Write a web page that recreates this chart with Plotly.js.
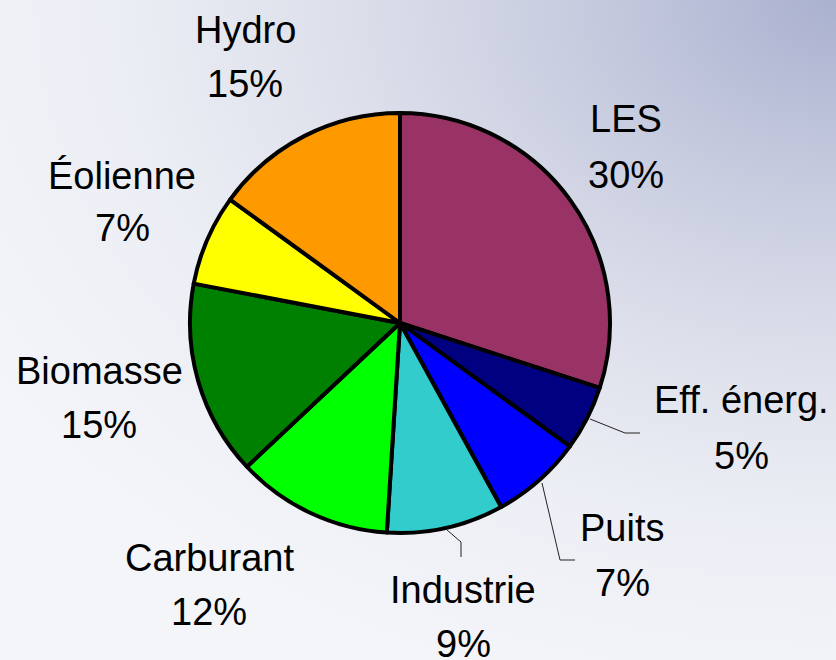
<!DOCTYPE html>
<html>
<head>
<meta charset="utf-8">
<script src="https://cdn.plot.ly/plotly-3.0.1.min.js"></script>
<style>
  html, body { margin: 0; padding: 0; }
  body {
    width: 836px; height: 660px; overflow: hidden;
    background: radial-gradient(ellipse 120% 110% at 100% 0%, #aab1cf 0%, #c3c8dd 22%, #dcdfea 48%, #eceef5 72%, #f3f5f9 100%);
  }
  #chart { width: 836px; height: 660px; }
</style>
</head>
<body>
<div id="chart"></div>
<script>
// ---- data ----
const categories = ["LES", "Eff. énerg.", "Puits", "Industrie", "Carburant", "Biomasse", "Éolienne", "Hydro"];
const shares = [30, 5, 7, 9, 12, 15, 7, 15];
const sliceColors = ["#993366", "#000080", "#0000FF", "#33CCCC", "#00FF00", "#008000", "#FFFF00", "#FF9900"];

// ---- layout helpers (pixel -> paper) ----
const W = 836, H = 660;
const px = x => x / W;
const py = y => 1 - y / H;

// label placement (name centre, percent centre) in pixels
const labelPlacement = [
  {name: [626, 119], pct: [626, 175]},
  {name: [741, 400], pct: [741, 456]},
  {name: [622, 528], pct: [622, 583]},
  {name: [463, 590], pct: [463, 644]},
  {name: [209, 558], pct: [209, 612]},
  {name: [99, 371],  pct: [99, 425]},
  {name: [122, 176], pct: [122, 228]},
  {name: [245, 30],  pct: [245, 84]}
];

const font = {family: "Liberation Sans, Arial, sans-serif", size: 38, color: "#000"};
const annotations = [];
categories.forEach((c, i) => {
  const p = labelPlacement[i];
  annotations.push({xref: "paper", yref: "paper", x: px(p.name[0]), y: py(p.name[1]),
    xanchor: "center", yanchor: "middle", text: c, showarrow: false, font: font});
  annotations.push({xref: "paper", yref: "paper", x: px(p.pct[0]), y: py(p.pct[1]),
    xanchor: "center", yanchor: "middle", text: shares[i] + "%", showarrow: false, font: font});
});

// leader lines
const leaders = [
  [[590, 419], [625, 433], [640, 433]],
  [[542, 483], [560, 560], [575, 560]],
  [[447, 530], [461, 542], [461, 557]]
];
const shapes = leaders.map(pts => ({
  type: "path", xref: "paper", yref: "paper",
  path: "M " + pts.map(p => px(p[0]) + "," + py(p[1])).join(" L "),
  line: {color: "#222", width: 1}
}));

const cx = 400, cy = 323, r = 210;
const trace = {
  type: "pie",
  labels: categories,
  values: shares,
  sort: false,
  direction: "clockwise",
  rotation: 0,
  marker: {colors: sliceColors, line: {color: "#000", width: 4}},
  textinfo: "none",
  hoverinfo: "label+percent",
  domain: {x: [px(cx - r), px(cx + r)], y: [py(cy + r), py(cy - r)]},
  showlegend: false
};

const layout = {
  width: W, height: H,
  margin: {l: 0, r: 0, t: 0, b: 0},
  paper_bgcolor: "rgba(0,0,0,0)",
  plot_bgcolor: "rgba(0,0,0,0)",
  showlegend: false,
  annotations: annotations,
  shapes: shapes
};

Plotly.newPlot("chart", [trace], layout, {displayModeBar: false, staticPlot: true});
</script>
</body>
</html>
